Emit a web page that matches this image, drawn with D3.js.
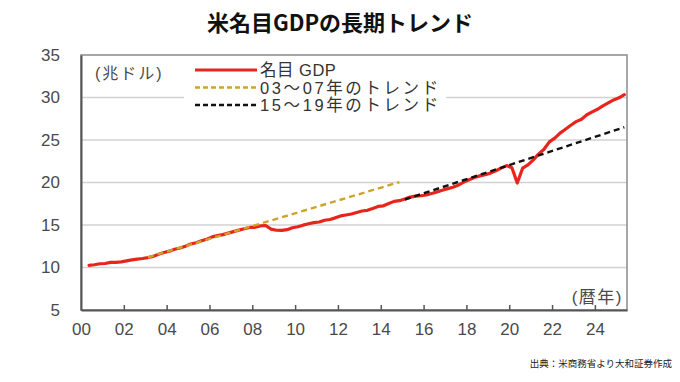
<!DOCTYPE html>
<html><head><meta charset="utf-8">
<script src="https://cdn.jsdelivr.net/npm/d3@7"></script>
<style>
html,body{margin:0;padding:0;background:#fff;}
svg{display:block;}
</style></head>
<body>
<script>
// ---- data (US nominal GDP, trillion USD, quarterly, SAAR) ----
const startYear = 2000, startQuarter = 2;
const gdpValues = [
  10.25, 10.32, 10.44,
  10.47, 10.60, 10.60, 10.66,
  10.78, 10.89, 10.99, 11.06,
  11.17, 11.31, 11.57, 11.77,
  11.92, 12.14, 12.30, 12.51,
  12.76, 12.92, 13.14, 13.33,
  13.60, 13.75, 13.87, 14.04,
  14.22, 14.40, 14.56, 14.71,
  14.73, 14.89, 14.94, 14.52,
  14.38, 14.36, 14.45, 14.68,
  14.80, 14.98, 15.14, 15.28,
  15.35, 15.56, 15.65, 15.84,
  16.07, 16.18, 16.30, 16.47,
  16.65, 16.73, 16.95, 17.19,
  17.26, 17.53, 17.78, 17.86,
  18.06, 18.28, 18.40, 18.44,
  18.53, 18.71, 18.89, 19.09,
  19.28, 19.44, 19.69, 20.04,
  20.33, 20.58, 20.78, 20.92,
  21.10, 21.38, 21.69, 21.99,
  21.73, 19.94, 21.68, 22.07,
  22.66, 23.37, 23.92, 24.78,
  25.22, 25.81, 26.27, 26.73,
  27.16, 27.45, 27.97, 28.30,
  28.62, 29.02, 29.37, 29.72,
  29.96, 30.33
];
// trend lines (start / end points)
const trend0307 = [{t: 2003.125, v: 11.2}, {t: 2014.875, v: 20.05}];
const trend1519 = [{t: 2015.125, v: 18.0}, {t: 2025.375, v: 26.5}];
const yTicks = [5, 10, 15, 20, 25, 30, 35];
const xTickYears = [2000, 2002, 2004, 2006, 2008, 2010, 2012, 2014, 2016, 2018, 2020, 2022, 2024];
const xTickLabels = ["00","02","04","06","08","10","12","14","16","18","20","22","24"];
const legendLabels = ["名目 GDP", "03～07年のトレンド", "15～19年のトレンド"];
const titleText = "米名目GDPの長期トレンド";
const unitText = "(兆ドル)";
const xUnitText = "(暦年)";
const sourceText = "出典：米商務省より大和証券作成";

// build series with time positions (quarter midpoints)
const gdp = gdpValues.map((v, i) => {
  const qi = (startQuarter - 1) + i;
  return {t: startYear + Math.floor(qi / 4) + (qi % 4) / 4 + 0.125, v};
});

const W = 680, H = 382;
const L = 81, R = 627, T = 55, B = 310;
const svg = d3.select("body").append("svg").attr("width", W).attr("height", H);
const x = d3.scaleLinear().domain([2000, 2025.5]).range([L, R]);
const y = d3.scaleLinear().domain([5, 35]).range([B, T]);
const txt = "'Liberation Sans', Arial, 'Noto Sans CJK JP', sans-serif";
const cjk = "'Liberation Sans', 'Noto Sans CJK JP', sans-serif";

// title
svg.append("text").attr("x", 340).attr("y", 31).attr("text-anchor", "middle")
  .attr("font-family", "'Noto Sans CJK JP', sans-serif").attr("font-weight", "bold")
  .attr("font-size", 22).attr("fill", "#111").text(titleText);

// gridlines
svg.append("g").selectAll("line").data(yTicks.filter(d => d > 5 && d < 35)).join("line")
  .attr("x1", L).attr("x2", R).attr("y1", d => y(d)).attr("y2", d => y(d))
  .attr("stroke", "#d2d2d2").attr("stroke-width", 1.5);

// frame
svg.append("rect").attr("x", L).attr("y", T).attr("width", R - L).attr("height", B - T)
  .attr("fill", "none").attr("stroke", "#8a8a8a").attr("stroke-width", 1.5);

// y axis
const yAxis = d3.axisLeft(y).tickValues(yTicks).tickSize(0).tickPadding(21);
const gy = svg.append("g").attr("transform", `translate(${L},0)`).call(yAxis);
gy.select(".domain").attr("stroke", "#555").attr("stroke-width", 2);
gy.selectAll("text").attr("font-family", txt).attr("font-size", 17).attr("fill", "#4a4a4a");

// x axis
const xAxis = d3.axisBottom(x).tickValues(xTickYears)
  .tickFormat((d, i) => xTickLabels[i]).tickSizeInner(-5).tickSizeOuter(0).tickPadding(13);
const gx = svg.append("g").attr("transform", `translate(0,${B})`).call(xAxis);
gx.select(".domain").attr("stroke", "#555").attr("stroke-width", 2);
gx.selectAll(".tick line").attr("stroke", "#555").attr("stroke-width", 1.5)
  .filter(d => d === 2000).remove();
gx.selectAll("text").attr("font-family", txt).attr("font-size", 17).attr("fill", "#4a4a4a");

const line = d3.line().x(d => x(d.t)).y(d => y(d.v));

// GDP line
svg.append("path").datum(gdp).attr("d", line).attr("fill", "none")
  .attr("stroke", "#e8251c").attr("stroke-width", 3.2)
  .attr("stroke-linejoin", "round").attr("stroke-linecap", "round");
// trends
svg.append("path").datum(trend0307).attr("d", line).attr("fill", "none")
  .attr("stroke", "#cfa32a").attr("stroke-width", 2.4).attr("stroke-dasharray", "6,4");
svg.append("path").datum(trend1519).attr("d", line).attr("fill", "none")
  .attr("stroke", "#111").attr("stroke-width", 2.4).attr("stroke-dasharray", "6,4");

// unit labels
svg.append("text").attr("x", 95).attr("y", 79).attr("font-family", cjk)
  .attr("font-size", 16).attr("letter-spacing", 2).attr("fill", "#4a4a4a").text(unitText);
svg.append("text").attr("x", 623).attr("y", 303).attr("text-anchor", "end")
  .attr("font-family", cjk).attr("font-size", 17).attr("letter-spacing", 1.5)
  .attr("fill", "#4a4a4a").text(xUnitText);

// legend
const lg = svg.append("g");
lg.append("rect").attr("x", 184).attr("y", 58).attr("width", 262).attr("height", 57).attr("fill", "#fff");
const legStyles = [
  {c: "#e8251c", w: 3.2, dash: null, ls: 0.5},
  {c: "#cfa32a", w: 2.4, dash: "5,3", ls: 2.6},
  {c: "#111", w: 2.4, dash: "5,3", ls: 2.6}
];
legendLabels.forEach((lab, i) => {
  const yy = 70 + i * 17.5;
  const s = legStyles[i];
  const ln = lg.append("line").attr("x1", 195).attr("x2", 257).attr("y1", yy).attr("y2", yy)
    .attr("stroke", s.c).attr("stroke-width", s.w);
  if (s.dash) ln.attr("stroke-dasharray", s.dash);
  lg.append("text").attr("x", 260).attr("y", yy + 6).attr("font-family", cjk)
    .attr("font-size", 16.5).attr("letter-spacing", s.ls).attr("fill", "#333").text(lab);
});

// source
svg.append("text").attr("x", 672).attr("y", 367).attr("text-anchor", "end")
  .attr("font-family", "'Noto Sans CJK JP', sans-serif").attr("font-size", 9.5)
  .attr("fill", "#222").text(sourceText);
</script>
</body></html>
